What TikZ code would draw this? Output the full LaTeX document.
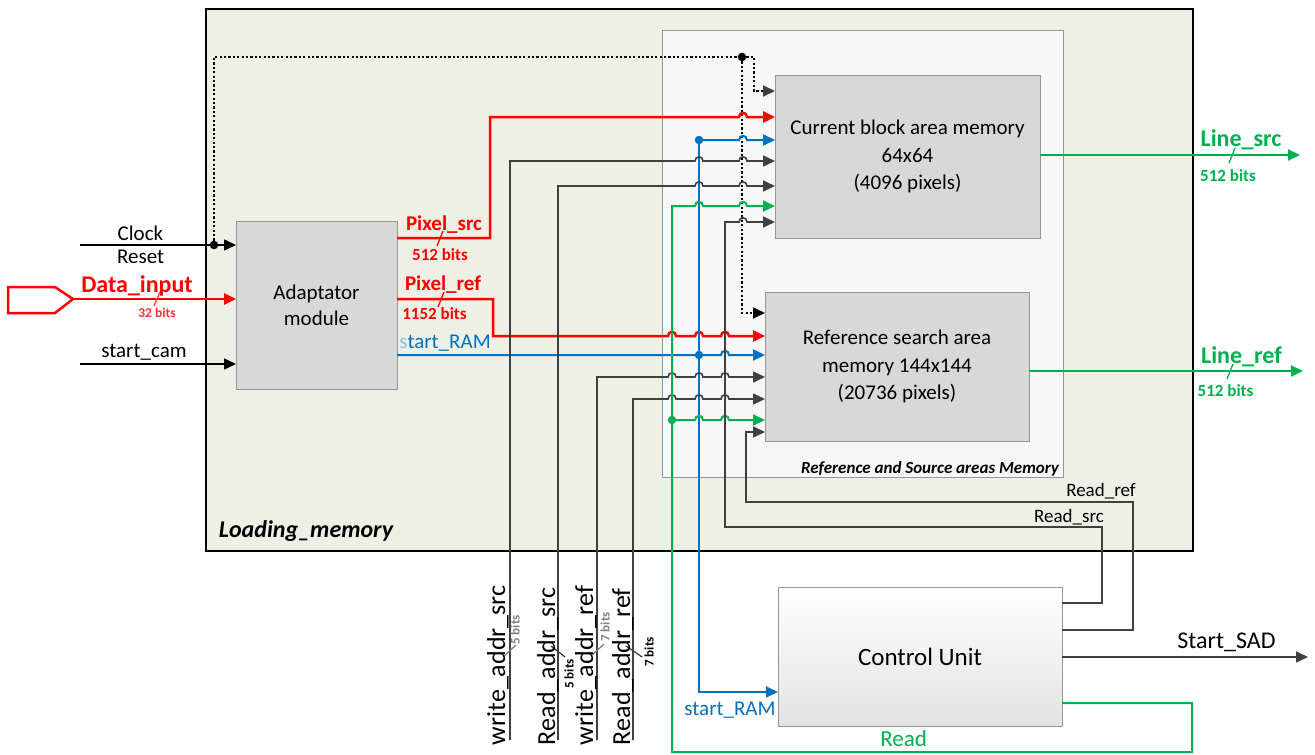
\documentclass[tikz,border=0pt]{standalone}
\usepackage{fontspec}
\setmainfont{Carlito}
\usetikzlibrary{arrows.meta}
\definecolor{cred}{RGB}{255,0,0}
\definecolor{cblue}{RGB}{0,112,192}
\definecolor{cgreen}{RGB}{0,176,80}
\definecolor{cgray}{RGB}{64,64,64}
\definecolor{lmfill}{RGB}{238,240,230}
\definecolor{boxfill}{RGB}{216,216,216}
\definecolor{boxline}{RGB}{150,150,150}
\newcommand\fsz[2]{\fontsize{#1}{#2}\selectfont}
% small semicircular bridges of a horizontal wire over vertical wires
\newcommand\hops[2]{\foreach \h in {#1} { -- (\h-4,#2) .. controls (\h-4,#2-5.5) and (\h+4,#2-5.5) .. (\h+4,#2) }}
\begin{document}
\begin{tikzpicture}[x=1pt,y=-1pt,
  every node/.style={inner sep=0pt, outer sep=0pt},
  box/.style={draw=boxline, line width=1pt, fill=boxfill, align=center, font=\fsz{21}{27.5}},
  lab/.style={font=\fsz{21}{25}, anchor=base},
  rlab/.style={rotate=90, anchor=base west, font=\fsz{26}{26}},
  blab/.style={rotate=90, font=\bfseries\fsz{13}{13}},
  arr/.style={-{Triangle[length=12pt,width=11pt]}},
  rw/.style={draw=cred, line width=2.5pt},
  bw/.style={draw=cblue, line width=2pt},
  gw/.style={draw=cgreen, line width=2pt},
  kw/.style={draw=cgray, line width=1.6pt},
  dw/.style={draw=black, line width=1.8pt, dash pattern=on 2.2pt off 2.2pt},
  jdot/.style={circle, minimum size=8.5pt, fill=#1},
  bitmark/.style={line width=1.3pt},
]
\useasboundingbox (0,0) rectangle (1315,755);
\fill[white] (0,0) rectangle (1315,755);

% blocks
\node[draw=black, line width=2.5pt, fill=lmfill, minimum width=987pt, minimum height=542pt] (lm) at (699.5,280) {};
\node[draw=boxline, line width=0.8pt, fill=black!3, minimum width=401pt, minimum height=447pt] (mem) at (862.5,253.5) {};
\node[box, minimum width=265pt, minimum height=163pt] (cur) at (907.5,156.5) {Current block area memory\\64x64\\(4096 pixels)};
\node[box, minimum width=264pt, minimum height=149pt] (ref) at (897,366.5) {Reference search area\\memory 144x144\\(20736 pixels)};
\node[box, minimum width=161pt, minimum height=168pt, font=\fsz{21}{26}] (adp) at (316.5,305) {Adaptator\\module};
\node[box, top color=white, bottom color=black!11, minimum width=284pt, minimum height=139pt, font=\fsz{25}{30}] (cu) at (920,656.5) {Control Unit};

% input port
\draw[cred, line width=2.5pt] (8,287) -- (55,287) -- (73,299) -- (55,313) -- (8,313) -- cycle;
\coordinate (din) at (73,299);
\coordinate (clkin) at (80,245);
\coordinate (camin) at (80,364);
\coordinate (wsrc) at (510,740);
\coordinate (rsrc) at (558,740);
\coordinate (wref) at (597,740);
\coordinate (rref) at (633,740);
\coordinate (lsrc) at (1300,155);
\coordinate (lref) at (1303,371);
\coordinate (sad) at (1308,657);

% junctions
\node[jdot=black] (j1) at (214,245) {};
\node[jdot=black] (j2) at (742,57) {};
\node[jdot=cblue] (b1) at (699,355) {};
\node[jdot=cblue] (b2) at (699,140) {};
\node[jdot=cgreen] (g1) at (672,420) {};

% clock / reset
\draw[black, line width=1.6pt, arr] (clkin) -- (adp.west |- clkin);
\draw[dw] (j1.center) -- (214,57) -- (j2.center);
\draw[dw, -{Triangle[length=12pt,width=11pt,color=cgray]}] (j2.center) -- (754,57) -- (754,91) -- (cur.west |- 0,91);
\draw[dw, arr] (j2.center) -- (742,313) -- (ref.west |- 0,313);

% inputs of the adaptator
\draw[rw, arr] (din) -- (adp.west |- din);
\draw[black, line width=1.6pt, arr] (camin) -- (adp.west |- camin);

% pixel buses
\draw[rw, arr] (adp.east |- 0,238) -- (490,238) -- (490,117) \hops{743}{117} -- (cur.west |- 0,117);
\draw[rw, arr] (adp.east |- 0,299) -- (493,299) -- (493,336) \hops{672,699,725}{336} -- (ref.west |- 0,336);

% start_RAM
\draw[bw, arr] (adp.east |- 0,355) \hops{725}{355} -- (ref.west |- 0,355);
\draw[bw, arr] (b2.center) \hops{743}{140} -- (cur.west |- 0,140);
\draw[bw, arr] (b2.center) -- (699,692) -- (cu.west |- 0,692);

% address buses
\draw[kw, arr] (wsrc) -- (510,161) \hops{699,743}{161} -- (cur.west |- 0,161);
\draw[kw, arr] (rsrc) -- (558,186) \hops{699,743}{186} -- (cur.west |- 0,186);
\draw[kw, arr] (wref) -- (597,377) \hops{672,699,725}{377} -- (ref.west |- 0,377);
\draw[kw, arr] (rref) -- (633,399) \hops{672,699,725}{399} -- (ref.west |- 0,399);

% Read
\draw[gw, arr] (cu.east |- 0,703) -- (1192,703) -- (1192,752) -- (672,752) -- (672,206) \hops{699,743}{206} -- (cur.west |- 0,206);
\draw[gw, arr] (g1.center) \hops{699,725}{420} -- (ref.west |- 0,420);

% Read_src / Read_ref
\draw[kw, arr] (cu.east |- 0,603) -- (1102,603) -- (1102,527) -- (725,527) -- (725,222) \hops{743}{222} -- (cur.west |- 0,222);
\draw[kw, arr] (cu.east |- 0,630) -- (1133,630) -- (1133,502) -- (746,502) -- (746,432) -- (ref.west |- 0,432);

% outputs
\draw[gw, arr] (cur.east |- lsrc) -- (lsrc);
\draw[gw, arr] (ref.east |- lref) -- (lref);
\draw[kw, arr] (cu.east |- sad) -- (sad);

% bus width marks
\draw[cred!75, bitmark] (154,306) -- (160,292);
\draw[cred, bitmark] (437,246) -- (443,231);
\draw[cred, bitmark] (438,307) -- (444,292);
\draw[cgreen, bitmark] (1229,163) -- (1235,148);
\draw[cgreen, bitmark] (1227,379) -- (1233,364);
\draw[gray, bitmark] (503,657) -- (516,645);
\draw[cgray, bitmark] (551,646) -- (565,657);
\draw[gray, bitmark] (591,656) -- (604,644);
\draw[cgray, bitmark] (626,646) -- (642,657);

% labels
\node[lab] (tclk) at (140.5,240.7) {Clock};
\node[lab] (trst) at (140.7,263.3) {Reset};
\node[lab, font=\bfseries\fsz{24}{24}, text=cred] (tdin) at (137,292.7) {Data\_input};
\node[lab, font=\bfseries\fsz{13.5}{14}, text=cred!80] (tdinw) at (157,317) {32 bits};
\node[lab] (tcam) at (144,357) {start\_cam};
\node[lab, font=\bfseries\fsz{21}{21}, text=cred] (tpsrc) at (444,230) {Pixel\_src};
\node[lab, font=\bfseries\fsz{17}{17}, text=cred] (tpsrcw) at (440,260) {512 bits};
\node[lab, font=\bfseries\fsz{21}{21}, text=cred] (tpref) at (443,290) {Pixel\_ref};
\node[lab, font=\bfseries\fsz{17}{17}, text=cred] (tprefw) at (434.5,319) {1152 bits};
\node[lab, text=cblue] (tsr1) at (445,348) {\textcolor{cblue!45}{s}tart\_RAM};
\node[lab, font=\bfseries\fsz{24}{24}, text=cgreen] (tlsrc) at (1241,146.7) {Line\_src};
\node[lab, font=\bfseries\fsz{17}{17}, text=cgreen] (tlsrcw) at (1228,181) {512 bits};
\node[lab, font=\bfseries\fsz{24}{24}, text=cgreen] (tlref) at (1241.5,363.3) {Line\_ref};
\node[lab, font=\bfseries\fsz{17}{17}, text=cgreen] (tlrefw) at (1225.5,396.7) {512 bits};
\node[lab, font=\fsz{19}{19}] (trref) at (1101,496) {Read\_ref};
\node[lab, font=\fsz{19}{19}] (trsrc) at (1069,522.7) {Read\_src};
\node[lab, font=\fsz{24}{24}] (tsad) at (1226.5,648) {Start\_SAD};
\node[lab, text=cblue] (tsr2) at (730,715.7) {start\_RAM};
\node[lab, font=\fsz{23}{23}, text=cgreen] (tread) at (903.6,746) {Read};
\node[anchor=base east, font=\bfseries\itshape\fsz{17}{17}] (tmem) at (1059,473.3) {Reference and Source areas Memory};
\node[lab, font=\bfseries\itshape\fsz{24}{24}] (tlm) at (306,537) {Loading\_memory};

\node[rlab] (twsrc) at (505,745) {write\_addr\_src};
\node[rlab] (trasrc) at (555,745) {Read\_addr\_src};
\node[rlab] (twref) at (593,745) {write\_addr\_ref};
\node[rlab] (traref) at (630,745) {Read\_addr\_ref};
\node[blab, text=gray] (tw1) at (515,630) {5 bits};
\node[blab, text=black] (tw2) at (569,674) {5 bits};
\node[blab, text=gray] (tw3) at (605,627) {7 bits};
\node[blab, text=black] (tw4) at (649,652) {7 bits};
\end{tikzpicture}
\end{document}
